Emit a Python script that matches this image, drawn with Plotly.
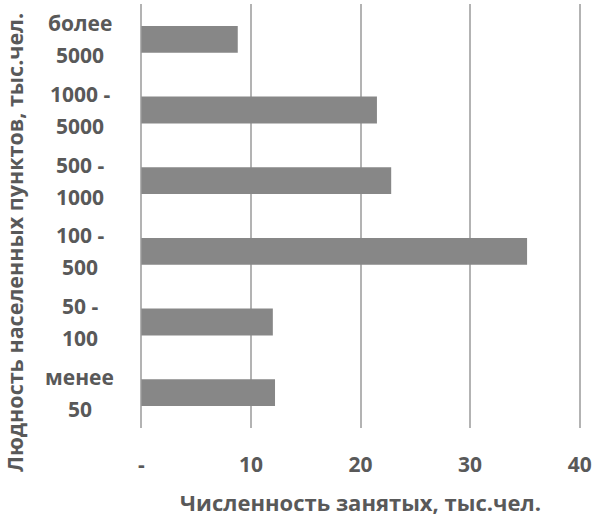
import plotly.graph_objects as go

# Людность населенных пунктов (снизу вверх) и численность занятых, тыс.чел.
categorias = ['менее<br>50', '50 -<br>100', '100 -<br>500', '500 -<br>1000', '1000 -<br>5000', 'более<br>5000']
valores = [12.2, 12.0, 35.2, 22.8, 21.5, 8.8]
ticks_x = [0, 10, 20, 30, 40]
ticks_txt = ['-', '10', '20', '30', '40']

gris_txt = '#595959'
fuente = 'Open Sans'

fig = go.Figure(go.Bar(
    x=valores,
    y=categorias,
    orientation='h',
    marker=dict(color='#878787', line=dict(width=0)),
))

# etiquetas de categorias centradas (dos lineas, como en Excel)
for c in categorias:
    lineas = c.split('<br>')
    for i, t in enumerate(lineas):
        fig.add_annotation(
            x=-0.137, xref='paper', y=c, yref='y',
            text=t, showarrow=False, xanchor='center', yanchor='middle',
            yshift=16 - 32 * i,
            font=dict(family=fuente, size=21, color=gris_txt, weight='bold'),
        )

# titulo eje y
fig.add_annotation(
    x=-0.285, xref='paper', y=0.437, yref='paper',
    text='Людность населенных пунктов, тыс.чел.', textangle=-90, showarrow=False,
    xanchor='center', yanchor='middle',
    font=dict(family=fuente, size=21.5, color=gris_txt, weight='bold'),
)

fig.update_layout(
    width=596, height=517,
    margin=dict(l=140, r=14, t=4, b=85),
    plot_bgcolor='white',
    paper_bgcolor='white',
    showlegend=False,
    bargap=0.62,
    xaxis=dict(
        range=[-0.12, 40.12],
        tickvals=ticks_x, ticktext=ticks_txt,
        showgrid=True, gridcolor='#b3b3b3', gridwidth=2,
        zeroline=False, showline=False,
        ticks='', ticklabelstandoff=22,
        tickfont=dict(family=fuente, size=21, color=gris_txt, weight='bold'),
        title=dict(text='Численность занятых, тыс.чел.', standoff=20,
                   font=dict(family=fuente, size=22, color=gris_txt, weight='bold')),
    ),
    yaxis=dict(
        showticklabels=False, showgrid=False, zeroline=False,
        showline=False, ticks='',
    ),
)

fig.write_html('out.html', config={'displayModeBar': False},
               post_script="document.body.style.margin='0';")
